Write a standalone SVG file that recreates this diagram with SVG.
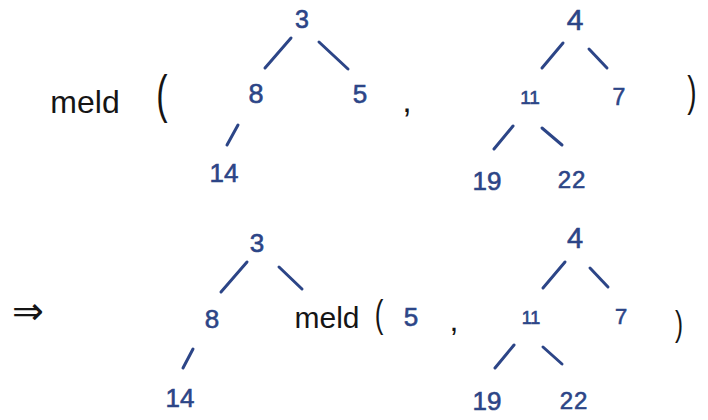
<svg xmlns="http://www.w3.org/2000/svg" width="708" height="420" viewBox="0 0 708 420">
<style>
.n{font-family:"Liberation Sans",Arial,sans-serif;fill:#2c4587;stroke:#2c4587;stroke-width:0.6;text-anchor:middle}
.k{font-family:"Liberation Sans",Arial,sans-serif;fill:#151515;text-anchor:middle}
.e{stroke:#2c4587;stroke-width:3;stroke-linecap:round;fill:none}
</style>
<rect width="708" height="420" fill="#ffffff"/>
<g id="connectors">
<line class="e" x1="291" y1="38" x2="265" y2="68"/>
<line class="e" x1="319" y1="42" x2="348" y2="69"/>
<line class="e" x1="238" y1="125" x2="227" y2="145"/>
<line class="e" x1="563" y1="43" x2="542" y2="68"/>
<line class="e" x1="589" y1="49" x2="607" y2="68"/>
<line class="e" x1="513" y1="126" x2="494" y2="149"/>
<line class="e" x1="542" y1="128" x2="562" y2="145"/>
<line class="e" x1="247" y1="262" x2="221" y2="292"/>
<line class="e" x1="279" y1="267" x2="302" y2="289"/>
<line class="e" x1="193" y1="349" x2="183" y2="368"/>
<line class="e" x1="565" y1="262" x2="543" y2="288"/>
<line class="e" x1="590" y1="268" x2="608" y2="287"/>
<line class="e" x1="514" y1="345" x2="495" y2="368"/>
<line class="e" x1="543" y1="347" x2="562" y2="364"/>
</g>
<g id="top-expr">
<text class="k" x="85" y="113" font-size="32">meld</text>
<text class="k" x="162" y="72" font-size="34" transform="scale(1,1.55)">(</text>
<text class="k" x="407" y="112" font-size="34">,</text>
<text class="k" x="692" y="71" font-size="28" transform="scale(1,1.5)">)</text>
</g>
<g id="t1-3"><text class="n" x="302" y="28" font-size="25">3</text></g>
<g id="t1-8"><text class="n" x="256" y="103" font-size="27">8</text></g>
<g id="t1-5"><text class="n" x="360" y="103" font-size="26">5</text></g>
<g id="t1-14"><text class="n" x="224" y="182" font-size="26">14</text></g>
<g id="t2-4"><text class="n" x="575" y="30" font-size="30">4</text></g>
<g id="t2-11"><text class="n" x="530" y="104" font-size="19">11</text></g>
<g id="t2-7"><text class="n" x="619" y="105" font-size="23">7</text></g>
<g id="t2-19"><text class="n" x="487" y="190" font-size="26">19</text></g>
<g id="t2-22"><text class="n" x="572" y="188" font-size="24" letter-spacing="1">22</text></g>
<g id="bottom-expr">
<text class="k" x="28" y="324" font-size="38" style="font-family:'DejaVu Sans',sans-serif">⇒</text>
<text class="k" x="327" y="328" font-size="30">meld</text>
<text class="k" x="379" y="218" font-size="26" transform="scale(1,1.5)">(</text>
<text class="k" x="454" y="331" font-size="32">,</text>
<text class="k" x="679" y="224" font-size="24" transform="scale(1,1.5)">)</text>
</g>
<g id="b1-3"><text class="n" x="257" y="252" font-size="26">3</text></g>
<g id="b1-8"><text class="n" x="212" y="328" font-size="26">8</text></g>
<g id="b1-14"><text class="n" x="180" y="407" font-size="26">14</text></g>
<g id="b-5"><text class="n" x="411" y="326" font-size="26">5</text></g>
<g id="b2-4"><text class="n" x="575" y="248" font-size="29">4</text></g>
<g id="b2-11"><text class="n" x="531" y="324" font-size="18">11</text></g>
<g id="b2-7"><text class="n" x="621" y="324" font-size="22">7</text></g>
<g id="b2-19"><text class="n" x="487" y="410" font-size="26">19</text></g>
<g id="b2-22"><text class="n" x="574" y="409" font-size="24" letter-spacing="1">22</text></g>
</svg>
